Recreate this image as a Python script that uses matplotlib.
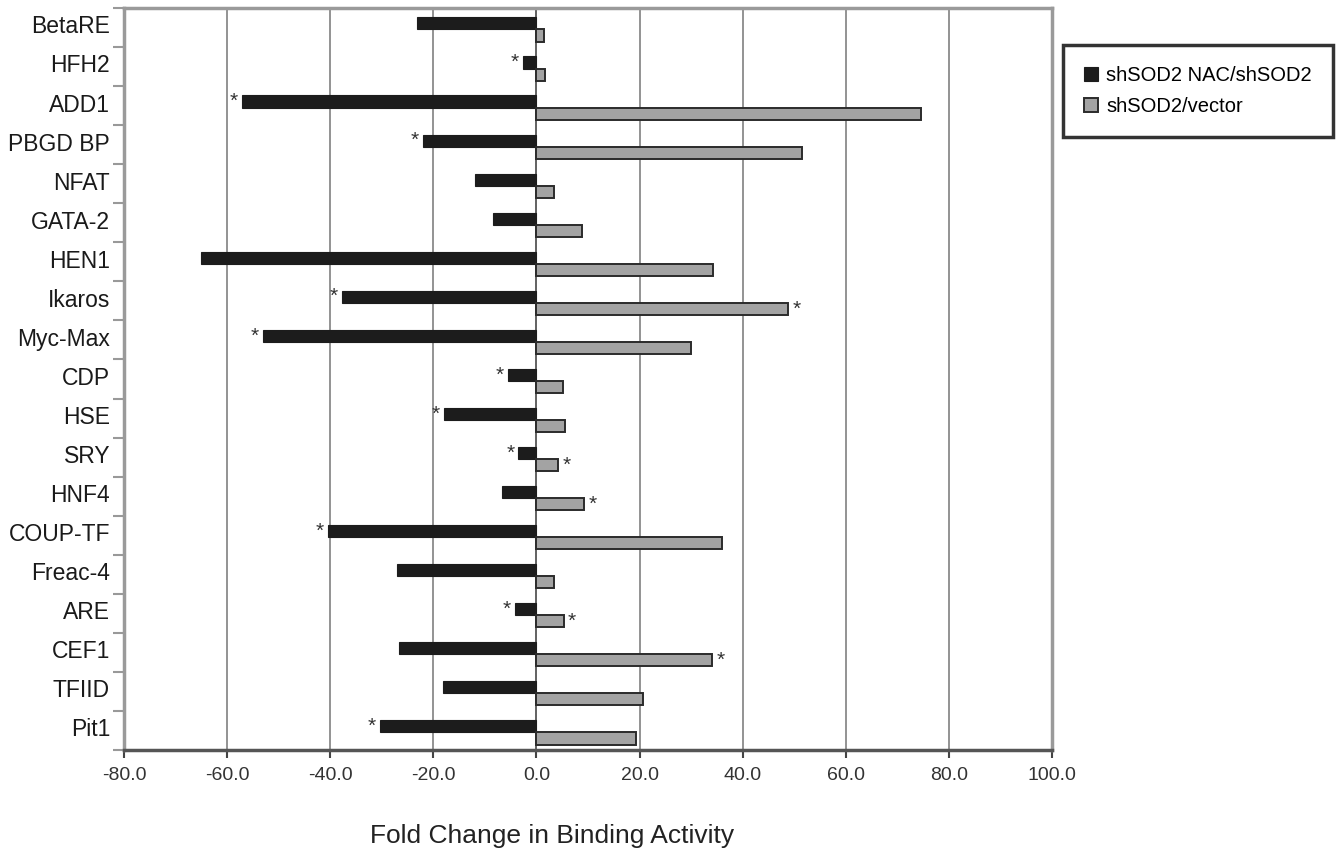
import matplotlib
matplotlib.use("Agg")
import matplotlib.pyplot as plt
import numpy as np

# Datos
factors = ["BetaRE", "HFH2", "ADD1", "PBGD BP", "NFAT", "GATA-2", "HEN1", "Ikaros",
           "Myc-Max", "CDP", "HSE", "SRY", "HNF4", "COUP-TF", "Freac-4", "ARE",
           "CEF1", "TFIID", "Pit1"]
nac_vals = [-23.2, -2.6, -57.2, -22.0, -11.9, -8.5, -65.0, -37.8, -53.0, -5.6,
            -17.9, -3.5, -6.7, -40.5, -27.1, -4.2, -26.6, -18.2, -30.3]
vec_vals = [1.4, 1.6, 74.5, 51.6, 3.4, 8.8, 34.2, 48.8, 29.9, 5.1,
            5.5, 4.2, 9.3, 35.9, 3.5, 5.3, 34.1, 20.7, 19.3]
nac_star = ["HFH2", "ADD1", "PBGD BP", "Ikaros", "Myc-Max", "CDP", "HSE", "SRY",
            "COUP-TF", "ARE", "Pit1"]
vec_star = ["Ikaros", "SRY", "HNF4", "ARE", "CEF1"]
series_names = ["shSOD2 NAC/shSOD2", "shSOD2/vector"]
x_ticks = [-80, -60, -40, -20, 0, 20, 40, 60, 80, 100]

plt.rcParams["font.family"] = ["Liberation Sans", "DejaVu Sans"]

fig = plt.figure(figsize=(13.39, 8.56), dpi=100)
ax = fig.add_axes([124 / 1339, 1 - 750 / 856, 928 / 1339, 742 / 856])

y = np.arange(len(factors))
h = 0.31
off = 0.05
ax.barh(y + off - h / 2, nac_vals, height=h, color="#1c1c1c", edgecolor="#1c1c1c",
        linewidth=0.8, zorder=3, label=series_names[0])
ax.barh(y + off + h / 2, vec_vals, height=h, color="#a3a3a3", edgecolor="#2b2b2b",
        linewidth=1.4, zorder=3, label=series_names[1])

# asteriscos de significancia
for i, name in enumerate(factors):
    if name in nac_star:
        ax.text(nac_vals[i] - 0.8, y[i] + off - h / 2, "*", ha="right", va="center",
                fontsize=15, color="#333333", zorder=4)
    if name in vec_star:
        ax.text(vec_vals[i] + 0.8, y[i] + off + h / 2, "*", ha="left", va="center",
                fontsize=15, color="#333333", zorder=4)

ax.set_xlim(-80, 100)
ax.set_ylim(len(factors) - 0.5, -0.5)
ax.set_xticks(x_ticks)
ax.set_xticklabels([f"{v:.1f}" for v in x_ticks], fontsize=14, color="#333333")
ax.set_yticks(y - 0.08)
ax.set_yticklabels(factors, fontsize=16.5, color="#1a1a1a")
ax.set_yticks(np.arange(len(factors) + 1) - 0.5, minor=True)
ax.tick_params(axis="y", which="major", length=0, pad=10)
ax.tick_params(axis="y", which="minor", length=8, width=1.5, color="#999999", direction="out")
ax.tick_params(axis="x", length=6, width=1.5, color="#444444", pad=6)

for v in x_ticks[1:-1]:
    ax.axvline(v, color="#555555" if v == 0 else "#8a8a8a", linewidth=1.3, zorder=1)

for side in ["top", "right", "left"]:
    ax.spines[side].set_color("#9a9a9a")
    ax.spines[side].set_linewidth(2.5)
ax.spines["bottom"].set_color("#555555")
ax.spines["bottom"].set_linewidth(2.5)

fig.text(552 / 1339, 1 - 836 / 856, "Fold Change in Binding Activity", ha="center",
         va="center", fontsize=19, color="#222222")

leg = fig.legend(loc="upper left", bbox_to_anchor=(1063 / 1339, 1 - 45 / 856),
                 fontsize=14.5, frameon=True, fancybox=False, handlelength=0.7,
                 handleheight=0.7, handletextpad=0.4, borderpad=1.05, labelspacing=0.6,
                 borderaxespad=0)
leg.get_frame().set_edgecolor("black")
leg.get_frame().set_linewidth(2.5)

fig.savefig("out.png", dpi=100)
